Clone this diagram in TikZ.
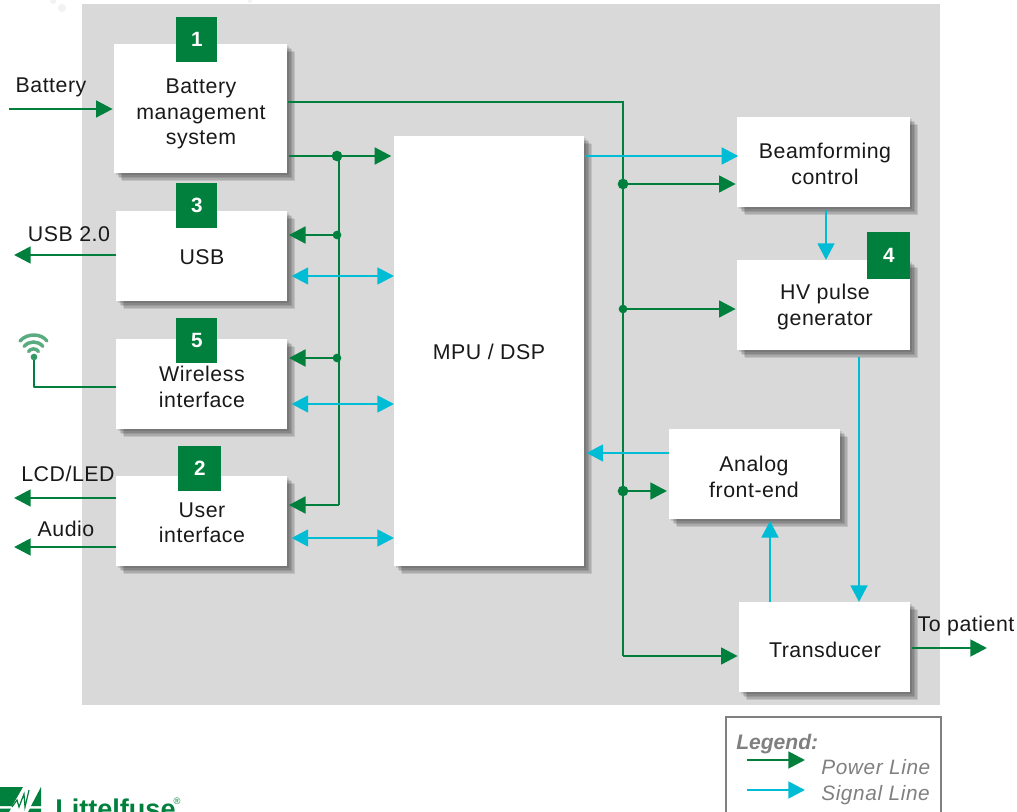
\documentclass[tikz,border=0pt]{standalone}
\usepackage{fontspec}
\setmainfont{Liberation Sans}
\usetikzlibrary{arrows.meta,calc}
\definecolor{pgreen}{HTML}{00803C}
\definecolor{scyan}{HTML}{00BCD4}
\definecolor{panel}{HTML}{D9D9D9}
\definecolor{leggray}{HTML}{808080}
\newdimen\pxu \pxu=0.75pt
\newfontfamily\lblfont[LetterSpace=2.5]{Liberation Sans}
\newfontfamily\legfont[LetterSpace=3]{Liberation Sans}
\tikzset{
  x=0.75pt,y=-0.75pt,
  shadowcopy/.style={preaction={draw=none,fill=black,fill opacity=0.11,transform canvas={shift={(#1*0.75pt,-#1*0.75pt)}}}},
  box/.style={fill=white,draw=none,inner sep=0pt,align=center,anchor=north west,
    shadowcopy=2,shadowcopy=3.5,shadowcopy=5,shadowcopy=6.5,shadowcopy=8},
  tag/.style={fill=pgreen,draw=none,inner sep=0pt,anchor=north west,text=white,font=\bfseries\fontsize{15.5pt}{16pt}\selectfont},
  lbl/.style={inner sep=0pt,align=center,font=\lblfont\fontsize{16pt}{19.1pt}\selectfont,text=black!90},
  pow/.style={draw=pgreen,line width=2.1pt},
  sig/.style={draw=scyan,line width=2.1pt},
  arrowp/.style={pow,-{Triangle[length=12.5pt,width=12.5pt]}},
  arrowsg/.style={sig,-{Triangle[length=12.5pt,width=12.5pt]}},
  bothsg/.style={sig,{Triangle[length=12.5pt,width=12.5pt]}-{Triangle[length=12.5pt,width=12.5pt]}},
  bigdot/.style={circle,fill=pgreen,inner sep=0pt,minimum size=8pt},
  smalldot/.style={circle,fill=pgreen,inner sep=0pt,minimum size=6.5pt},
}
\newcommand{\tagnum}[1]{\raisebox{-2pt}{#1}}
\begin{document}
\begin{tikzpicture}
\useasboundingbox (0,0) rectangle (1017,812);
\clip (0,0) rectangle (1017,812);
% faint marks
\fill[black!5] (62,8) circle (4) (53,1) circle (3) (250,1) circle (2);
\node[fill=panel,inner sep=0pt,anchor=north west,minimum width=858\pxu,minimum height=701\pxu] (panel) at (82,4) {};
% boxes
\node[box,minimum width=173\pxu,minimum height=129\pxu] (bms) at (114,44) {};
\node[lbl] (bmst) at (201,114) {Battery\\management\\system};
\node[box,minimum width=171\pxu,minimum height=90\pxu] (usb) at (116,211) {};
\node[lbl] (usbt) at (202,257) {USB};
\node[box,minimum width=171\pxu,minimum height=90\pxu] (wifi) at (116,339) {};
\node[lbl] (wifit) at (202,387) {Wireless\\interface};
\node[box,minimum width=171\pxu,minimum height=90\pxu] (ui) at (116,476) {};
\node[lbl] (uit) at (202,523) {User\\interface};
\node[box,minimum width=190\pxu,minimum height=430\pxu] (mpu) at (394,136) {};
\node[lbl] (mput) at (489,352) {MPU / DSP};
\node[box,minimum width=173\pxu,minimum height=90\pxu] (beam) at (737,117) {};
\node[lbl] (beamt) at (825,164) {Beamforming\\control};
\node[box,minimum width=173\pxu,minimum height=90\pxu] (hv) at (737,260) {};
\node[lbl] (hvt) at (825,307) {HV pulse\\generator};
\node[box,minimum width=171\pxu,minimum height=90\pxu] (afe) at (669,429) {};
\node[lbl] (afet) at (754,477) {Analog\\front-end};
\node[box,minimum width=171\pxu,minimum height=90\pxu] (trans) at (739,602) {};
\node[lbl] (transt) at (825,650) {Transducer};
% tags
\node[tag,minimum width=41\pxu,minimum height=45\pxu] (t1) at (176,17) {\tagnum{1}};
\node[tag,minimum width=41\pxu,minimum height=45\pxu] (t3) at (176,183) {\tagnum{3}};
\node[tag,minimum width=41\pxu,minimum height=45\pxu] (t5) at (176,318) {\tagnum{5}};
\node[tag,minimum width=43\pxu,minimum height=45\pxu] (t2) at (178,446) {\tagnum{2}};
\node[tag,minimum width=43\pxu,minimum height=47\pxu] (t4) at (867,232) {\tagnum{4}};
% outer labels
\node[lbl] (lbat) at (51,87) {Battery};
\node[lbl] (lusb) at (69,234) {USB 2.0};
\node[lbl] (llcd) at (68,474) {LCD/LED};
\node[lbl] (laud) at (66,529) {Audio};
\node[lbl] (lpat) at (966,626) {To patient};
% junctions and free ends
\coordinate (batin) at (9,109);
\coordinate (usbout) at (14,255);
\coordinate (lcdout) at (14,498);
\coordinate (audout) at (14,547);
\coordinate (patout) at (987,648);
\coordinate (ant) at (34,357);
\coordinate (antc) at (34,387);
\coordinate (j1) at (337,156);
\coordinate (j2) at (337,235);
\coordinate (j3) at (337,358);
\coordinate (bus1) at (339,156);
\coordinate (bus2) at (339,505);
\coordinate (r0) at (623,102);
\coordinate (r1) at (623,184);
\coordinate (r2) at (623,309);
\coordinate (r3) at (623,491);
\coordinate (r4) at (623,656);
% power lines
\draw[arrowp,shorten >=1pt] (batin) -- (bms.west |- batin);
\draw[pow] (bms.east |- r0) -- (r0) -- (r4);
\draw[arrowp,shorten >=1pt] (r4) -- (trans.west |- r4);
\draw[arrowp,shorten >=2pt,shorten <=1pt] (bms.east |- j1) -- (mpu.west |- j1);
\draw[pow] (bus1) -- (bus2);
\draw[arrowp,shorten >=1pt] (bus2) -- (ui.east |- bus2);
\draw[arrowp,shorten >=1pt] (j2) -- (usb.east |- j2);
\draw[arrowp,shorten >=1pt] (j3) -- (wifi.east |- j3);
\draw[arrowp,shorten >=1pt] (r1) -- (beam.west |- r1);
\draw[arrowp,shorten >=1pt] (r2) -- (hv.west |- r2);
\draw[arrowp,shorten >=1.5pt] (r3) -- (afe.west |- r3);
\draw[arrowp] (usb.west |- usbout) -- (usbout);
\draw[arrowp] (ui.west |- lcdout) -- (lcdout);
\draw[arrowp] (ui.west |- audout) -- (audout);
\draw[arrowp,shorten <=1pt] (trans.east |- patout) -- (patout);
\draw[pow,line width=1.8pt,line join=round] (ant) -- (antc) -- (wifi.west |- antc);
\node[bigdot] (dj1) at (j1) {};
\node[smalldot] (dj2) at (j2) {};
\node[smalldot] (dj3) at (j3) {};
\node[bigdot] (dr1) at (r1) {};
\node[smalldot] (dr2) at (r2) {};
\node[bigdot] (dr3) at (r3) {};
% signal lines
\coordinate (s1) at (350,276);
\coordinate (s2) at (350,404);
\coordinate (s3) at (350,538);
\coordinate (s4) at (700,156);
\coordinate (s5) at (826,230);
\coordinate (s6) at (859,500);
\coordinate (s7) at (770,560);
\coordinate (s8) at (630,453);
\draw[bothsg,shorten <=3pt] (usb.east |- s1) -- (mpu.west |- s1);
\draw[bothsg,shorten <=3pt] (wifi.east |- s2) -- (mpu.west |- s2);
\draw[bothsg,shorten <=3pt] (ui.east |- s3) -- (mpu.west |- s3);
\draw[arrowsg,shorten >=-1pt] (mpu.east |- s4) -- (beam.west |- s4);
\draw[arrowsg,shorten <=2pt] (beam.south -| s5) -- (hv.north -| s5);
\draw[arrowsg,shorten <=5pt] (hv.south -| s6) -- (trans.north -| s6);
\draw[arrowsg,shorten >=1pt] (trans.north -| s7) -- (afe.south -| s7);
\draw[arrowsg,shorten >=1.5pt] (afe.west |- s8) -- (mpu.east |- s8);
% wifi icon
\node[circle,fill=pgreen!80,inner sep=0pt,minimum size=5pt] (antd) at (ant) {};
\begin{scope}[pgreen!65,line cap=round]
\draw[line width=2.6pt] (20,341) .. controls (27,333) and (41,333) .. (47,341);
\draw[line width=2.6pt] (24,346.5) .. controls (29,340.5) and (38,340.5) .. (43,346.5);
\draw[line width=2.6pt] (28.5,351.5) .. controls (31,348) and (36,348) .. (38.5,351.5);
\end{scope}
% logo
\fill[pgreen] (0,787) -- (23,787) -- (12,806) -- (0,806) -- cycle;
\fill[pgreen] (0,808.5) -- (11,808.5) -- (9,812) -- (0,812) -- cycle;
\fill[pgreen] (41,787) -- (41,806) -- (31,806) -- cycle;
\fill[pgreen] (41,808.5) -- (41,812) -- (28,812) -- (30,808.5) -- cycle;
\draw[pgreen,line width=0.9pt] (12,807) -- (17,800) -- (19,807) -- (24,794) -- (25,807) -- (29,790);
\node[inner sep=0pt,anchor=base west,text=pgreen,font=\bfseries\fontsize{20.3pt}{24pt}\selectfont] (logo) at (55,818) {Littelfuse};
\node[inner sep=0pt,text=pgreen,font=\fontsize{7pt}{7pt}\selectfont] (logor) at (177,801) {®};
% legend
\node[draw=leggray,line width=1.8pt,fill=white,inner sep=0pt,anchor=north west,minimum width=215\pxu,minimum height=130\pxu] (leg) at (725,716) {};
\node[inner sep=0pt,anchor=base west,text=leggray,font=\bfseries\itshape\fontsize{15.8pt}{15pt}\selectfont] (legt) at (736,749) {Legend:};
\node[inner sep=0pt,anchor=base west,text=leggray,font=\legfont\itshape\fontsize{15.6pt}{15pt}\selectfont] (legp) at (821,774) {Power Line};
\node[inner sep=0pt,anchor=base west,text=leggray,font=\legfont\itshape\fontsize{15.6pt}{15pt}\selectfont] (legs) at (821,800) {Signal Line};
\coordinate (la) at (747,760);
\coordinate (lb) at (805,760);
\coordinate (lc) at (747,790);
\coordinate (ld) at (805,790);
\draw[arrowp] (la) -- (lb);
\draw[arrowsg] (lc) -- (ld);
\end{tikzpicture}
\end{document}
